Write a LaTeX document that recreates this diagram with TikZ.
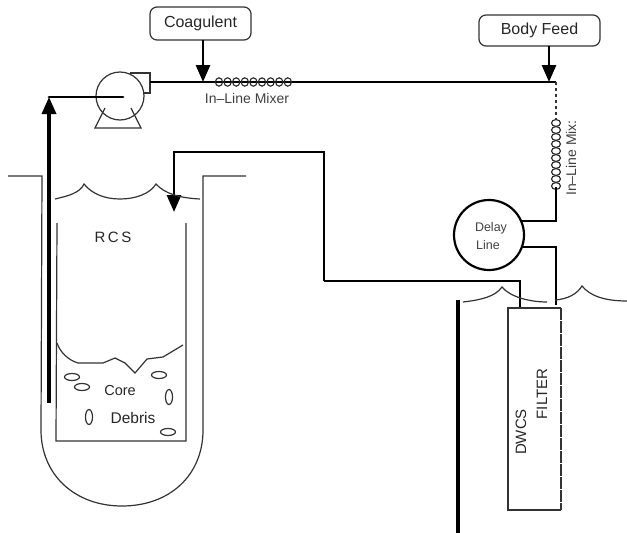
\documentclass[tikz,border=0pt]{standalone}
\usepackage{fontspec}
\setmainfont{Liberation Sans}
\usetikzlibrary{arrows.meta}
\tikzset{
  thin line/.style={draw=black!80,line width=1.2pt},
  pipe/.style={draw=black,line width=2.8pt},
  heavy/.style={draw=black,line width=3.4pt},
  coil/.style={draw=black!85,line width=1.1pt},
  feedbox/.style={draw=black!80,line width=1.2pt,rounded corners=7pt,font=\fontsize{16}{18}\selectfont,text=black!85,inner sep=0pt},
  lbl/.style={font=\fontsize{15}{17}\selectfont,text=black!85,inner sep=0pt},
  small/.style={font=\fontsize{14}{16}\selectfont,text=black!75,inner sep=0pt},
  debris/.style={draw=black!80,line width=1.2pt},
  tip/.style={-{Triangle[length=17pt,width=14pt]}}
}
\begin{document}
\begin{tikzpicture}[x=1pt,y=-1pt]
\useasboundingbox (0,0) rectangle (627,533);
% feed boxes
\node[feedbox,minimum width=101pt,minimum height=33pt] (coag) at (200.5,23.5) {Coagulent};
\node[feedbox,minimum width=121pt,minimum height=31pt] (body) at (539.5,30.5) {Body Feed};
\coordinate (mixjoin) at (203,82);
\coordinate (bodyjoin) at (549,82);
\coordinate (corner) at (556,82);
% pump
\node[circle,draw=black!80,line width=1.2pt,minimum size=48pt,inner sep=0pt] (pump) at (120,96) {};
\draw[thin line] (130,73) -- (150,73) -- (150,93) -- (144,93);
\draw[thin line] (105,108) -- (95,128) -- (141,128) -- (131,108);
% pipes top
\draw[pipe] (150,82) -- (corner);
\draw[pipe,line cap=round] (123,97) -- (49,97);
\draw[heavy,tip] (49,403) -- (49,97);
\draw[pipe,tip] (203,40) -- (mixjoin);
\draw[pipe,tip] (549,46) -- (bodyjoin);
% mixers
\foreach \i in {0,...,8}{
  \draw[coil] (219+\i*8.6,82) ellipse (3.6pt and 4.2pt);
}
\node[small] (mix1) at (247,98) {In--Line Mixer};
% right vertical
\draw[thin line,dashed,line width=1.6pt] (corner) -- (556,120);
\foreach \i in {0,...,9}{
  \draw[coil] (556,123+\i*7) ellipse (4.5pt and 3.4pt);
}
\draw[pipe] (556,187) -- (556,221) -- (522,221);
\node[small,rotate=90] (mix2) at (571,158) {In--Line Mix:};
% delay line
\node[circle,draw=black,line width=2.2pt,minimum size=70pt,inner sep=0pt] (delay) at (489,235) {};
\node[small,font=\fontsize{12.5}{14}\selectfont] (dl1) at (491,228) {Delay};
\node[small,font=\fontsize{12.5}{14}\selectfont] (dl2) at (488,245) {Line};
\draw[pipe] (521,247) -- (556,247) -- (556,305);
\draw[pipe,tip] (324,281) -- (324,152) -- (174,152) -- (174,212);
\draw[pipe] (324,281) -- (520,281) -- (520,308);
\draw[heavy] (458,300) -- (458,533);
% surface on right
\draw[thin line] (463,302) .. controls (480,300) and (495,297) .. (502,287) .. controls (510,297) and (530,302) .. (547,302);
\draw[thin line] (555,300) .. controls (568,299) and (577,294) .. (582,286) .. controls (590,296) and (605,301) .. (627,301);
% filter
\draw[thin line] (561,308) -- (508,308) -- (508,510) -- (561,510);
\draw[thin line,dash pattern=on 12pt off 1pt] (561,308) -- (561,510);
\node[lbl,rotate=90] (dwcs) at (521,432) {DWCS};
\node[lbl,rotate=90] (filt) at (542,394) {FILTER};
% vessel
\draw[thin line] (8,176) -- (42,176) -- (41,430) .. controls (41,475) and (75,506) .. (122,506) .. controls (170,506) and (203,475) .. (203,430) -- (203,176) -- (246,176);
\draw[thin line] (57,223) -- (56,441) -- (186,441) -- (186,223);
\draw[thin line] (55,199) .. controls (68,196) and (80,193) .. (84,184) .. controls (92,194) and (105,199) .. (120,199) .. controls (135,199) and (150,194) .. (156,184) .. controls (165,194) and (180,198) .. (200,199);
\draw[thin line] (57,343) .. controls (60,352) and (68,360) .. (78,363) -- (103,363) -- (115,358) -- (125,363) -- (135,373) -- (147,359) -- (163,357) -- (183,345);
\node[lbl,font=\fontsize{15}{17}\selectfont] (rcs) at (113,237) {R\,C\,S};
\node[lbl,font=\fontsize{14.5}{16}\selectfont] (core) at (120,391) {Core};
\node[lbl,font=\fontsize{15.5}{17}\selectfont] (debr) at (133,418) {Debris};
\draw[debris] (72,377) ellipse (7.5pt and 3.5pt);
\draw[debris] (82,387) ellipse (7.5pt and 3.5pt);
\draw[debris] (159,375) ellipse (7.5pt and 3.5pt);
\draw[debris] (169,397) ellipse (3.5pt and 7.5pt);
\draw[debris] (89,417) ellipse (3.5pt and 7.5pt);
\draw[debris] (168,432) ellipse (7.5pt and 3.5pt);
\end{tikzpicture}
\end{document}
